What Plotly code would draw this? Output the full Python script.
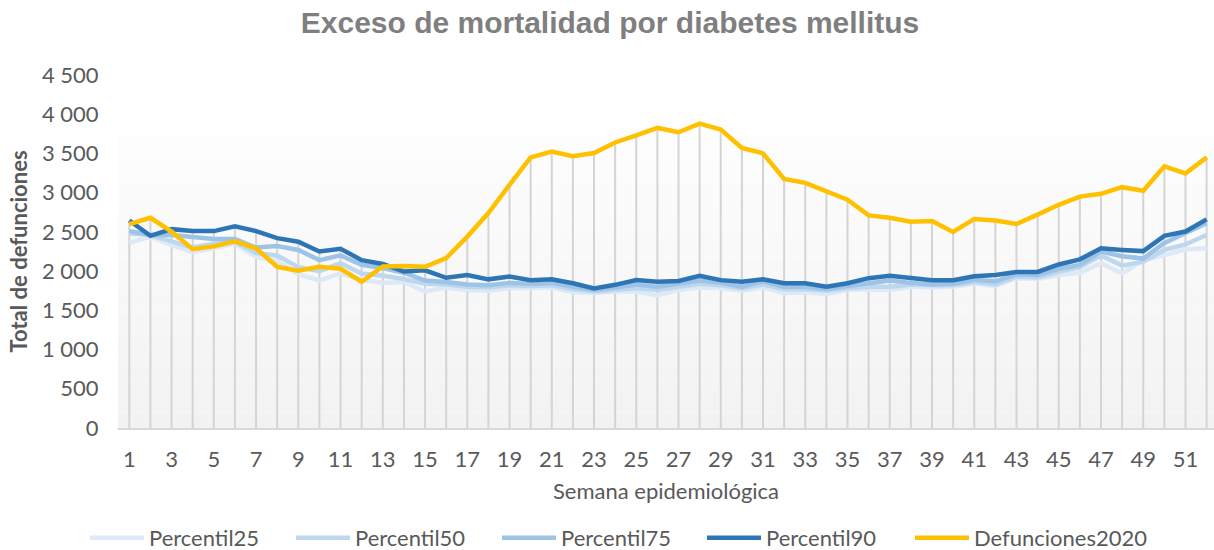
import plotly.graph_objects as go

# Semanas epidemiológicas 1-52
semanas = list(range(1, 53))

percentil25 = [2360, 2440, 2330, 2240, 2290, 2350, 2180, 2130, 1960, 1880,
               1970, 1890, 1850, 1860, 1740, 1790, 1760, 1750, 1780, 1780,
               1790, 1730, 1720, 1740, 1740, 1690, 1760, 1790, 1780, 1750,
               1790, 1720, 1730, 1710, 1760, 1770, 1760, 1800, 1790, 1800,
               1840, 1810, 1910, 1900, 1950, 1980, 2100, 1970, 2140, 2200,
               2280, 2290]
percentil50 = [2480, 2460, 2380, 2300, 2350, 2370, 2230, 2200, 2050, 2000,
               2100, 1970, 1940, 1900, 1840, 1830, 1800, 1790, 1820, 1810,
               1820, 1770, 1740, 1760, 1780, 1760, 1800, 1840, 1820, 1780,
               1830, 1770, 1770, 1750, 1780, 1800, 1800, 1830, 1820, 1820,
               1860, 1830, 1930, 1920, 1990, 2050, 2200, 2070, 2120, 2270,
               2340, 2460]
percentil75 = [2510, 2460, 2460, 2440, 2410, 2410, 2300, 2320, 2270, 2140,
               2200, 2080, 2040, 1980, 1880, 1860, 1830, 1820, 1850, 1840,
               1850, 1800, 1760, 1790, 1830, 1800, 1840, 1880, 1850, 1800,
               1870, 1800, 1800, 1770, 1810, 1850, 1880, 1850, 1830, 1840,
               1890, 1870, 1960, 1950, 2030, 2080, 2250, 2190, 2160, 2360,
               2480, 2610]
percentil90 = [2645, 2450, 2535, 2510, 2510, 2570, 2510, 2420, 2375, 2250,
               2285, 2140, 2090, 1995, 2010, 1915, 1950, 1895, 1930, 1885,
               1895, 1845, 1780, 1825, 1885, 1865, 1875, 1940, 1885, 1865,
               1895, 1845, 1845, 1800, 1845, 1910, 1940, 1910, 1885, 1885,
               1935, 1950, 1990, 1990, 2085, 2150, 2290, 2270, 2255, 2450,
               2505, 2660]
defunciones2020 = [2600, 2680, 2505, 2280, 2315, 2380, 2290, 2055, 2005, 2055,
                   2030, 1865, 2060, 2065, 2055, 2165, 2440, 2740, 3100, 3450,
                   3525, 3465, 3505, 3640, 3730, 3825, 3770, 3880, 3805, 3570,
                   3500, 3175, 3125, 3010, 2910, 2710, 2680, 2630, 2640, 2500,
                   2665, 2645, 2600, 2720, 2845, 2950, 2985, 3070, 3025, 3335,
                   3245, 3450]

series = [
    ("Percentil25", percentil25, "#dde9f6"),
    ("Percentil50", percentil50, "#bdd7ee"),
    ("Percentil75", percentil75, "#9dc3e6"),
    ("Percentil90", percentil90, "#2e75b6"),
    ("Defunciones2020", defunciones2020, "#ffc000"),
]

etiquetas_x = list(range(1, 52, 2))
ticks_y = list(range(0, 4501, 500))

fig = go.Figure()

# Líneas de caída: desde el eje hasta el valor más alto de cada semana
tope = [max(v) for v in zip(percentil25, percentil50, percentil75,
                            percentil90, defunciones2020)]
xs, ys = [], []
for s, t in zip(semanas, tope):
    xs += [s, s, None]
    ys += [0, t, None]
fig.add_trace(go.Scatter(x=xs, y=ys, mode="lines",
                         line=dict(color="#d4d4d4", width=2),
                         showlegend=False, hoverinfo="skip"))

texto = "#595959"

# Una leyenda por serie, alineadas en una fila bajo el gráfico
legend_x = [85, 291, 497, 702, 910]
legend_cfg = {}
for i, ((nombre, valores, color), lx) in enumerate(zip(series, legend_x)):
    key = "legend" if i == 0 else f"legend{i + 1}"
    fig.add_trace(go.Scatter(x=semanas, y=valores, name=nombre, mode="lines",
                             line=dict(color=color, width=4.5),
                             legend=key))
    legend_cfg[key] = dict(orientation="h", xref="container", x=lx / 1214,
                           xanchor="left", yref="container",
                           y=1 - 538 / 550, yanchor="middle", itemwidth=54,
                           font=dict(family="Lato", size=22, color=texto),
                           bgcolor="rgba(0,0,0,0)")

# Fondo degradado del área de trazado (blanco arriba, gris claro abajo)
shapes = []
n = 40
top_frac = 0.8725
for i in range(n):
    y0 = top_frac * i / n
    y1 = top_frac * (i + 1) / n
    g = int(round(242 + (254 - 242) * (i + 0.5) / n))
    shapes.append(dict(type="rect", xref="paper", yref="paper",
                       x0=0, x1=1, y0=y0, y1=y1,
                       fillcolor=f"rgb({g},{g},{g})",
                       line=dict(width=0), layer="below"))

fig.update_layout(
    width=1214, height=550,
    margin=dict(l=118, r=0, t=75, b=122),
    paper_bgcolor="white", plot_bgcolor="rgba(0,0,0,0)",
    separators=", ",
    shapes=shapes,
    font=dict(family="Lato", size=22, color=texto),
    title=dict(text="<b>Exceso de mortalidad por diabetes mellitus</b>",
               x=0.5025, xanchor="center", y=1 - 22 / 550, yanchor="middle",
               font=dict(family="Liberation Sans", size=30, color="#7f7f7f")),
    xaxis=dict(range=[0.465, 52.35], tickvals=etiquetas_x,
               ticktext=[str(v) for v in etiquetas_x],
               showgrid=False, zeroline=False,
               showline=True, linecolor="#d9d9d9", linewidth=1.5,
               ticks="outside", ticklen=11, tickcolor="rgba(0,0,0,0)",
               tickfont=dict(size=22, color=texto),
               title=dict(text="Semana epidemiológica", standoff=12,
                          font=dict(size=22, color=texto))),
    yaxis=dict(range=[0, 4500], tickvals=ticks_y, tickformat=",d",
               showgrid=False, zeroline=False, showline=False,
               ticks="outside", ticklen=14, tickcolor="rgba(0,0,0,0)",
               tickfont=dict(size=22, color=texto),
               title=dict(text="<b>Total de defunciones</b>", standoff=8,
                          font=dict(size=22, color=texto))),
    hovermode=False,
    **legend_cfg,
)

fig.write_html("out.html")
